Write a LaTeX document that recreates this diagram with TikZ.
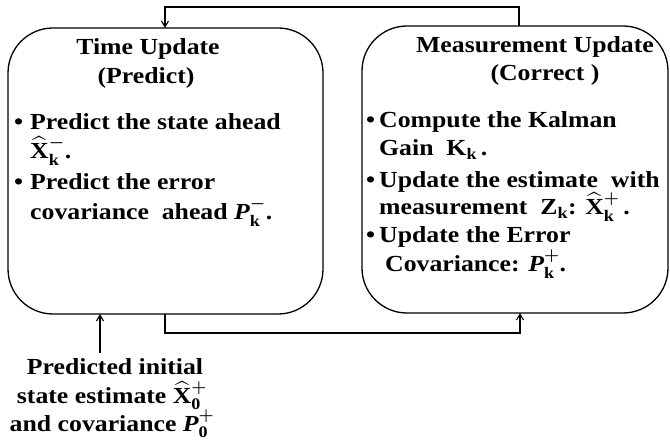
\documentclass[tikz,border=0pt]{standalone}
\usepackage{amsmath}
\usepackage{fontspec}
\setmainfont{Liberation Serif}[FakeStretch=1.12]
\usetikzlibrary{arrows.meta}
\newcommand{\tb}[1]{\text{\bfseries\upshape #1}}
\newcommand{\Xhat}{{\vphantom{\tb{X}}\smash{\widehat{\tb{X}}}}}
\newcommand{\Pit}{\text{\bfseries\itshape P}}
\begin{document}
\begin{tikzpicture}[x=1pt,y=-1pt,
  box/.style={draw,line width=1.3pt,rounded corners=45pt},
  conn/.style={line width=1.3pt},
  arr/.style={conn,-{Straight Barb[length=6pt,width=7pt,line width=1.1pt]}},
  txt/.style={font=\bfseries\boldmath\fontsize{23}{26}\selectfont,inner sep=0pt,anchor=base west},
  ctxt/.style={txt,anchor=base}]
\useasboundingbox (0,0) rectangle (670,443);
% boxes
\draw[box] (8,28) rectangle (323,314);
\draw[box] (362,26) rectangle (668,313);
\coordinate (lt) at (165,28);
\coordinate (lb) at (165,314);
\coordinate (rt) at (519,26);
\coordinate (rb) at (520,313);
\coordinate (init) at (100,314);
% left box texts
\node[ctxt] (t1) at (148,55) {Time Update};
\node[ctxt] (t2) at (146,84) {(Predict)};
\node[txt] (b1) at (14,130) {\textbullet};
\node[txt] (l1) at (30,130) {Predict the state ahead};
\node[txt] (l2) at (30,159) {$\Xhat^{-}_{\tb{k}}$.};
\node[txt] (b2) at (14,190) {\textbullet};
\node[txt] (l3) at (30,190) {Predict the error};
\node[txt] (l4) at (30,220) {covariance\ \ ahead $\Pit^{-}_{\tb{k}}$.};
% right box texts
\node[ctxt] (m1) at (535,53) {Measurement Update};
\node[ctxt] (m2) at (545,81) {(Correct )};
\node[txt] (c0) at (366,128) {\textbullet};
\node[txt] (c1) at (379,128) {Compute the Kalman};
\node[txt] (c2) at (379,156) {Gain\ \ $\tb{K}_{\tb{k}}$\,.};
\node[txt] (c3b) at (366,188) {\textbullet};
\node[txt] (c3) at (379,188) {Update the estimate\ \ with};
\node[txt] (c4) at (379,215) {measurement\ \ $\tb{Z}_{\tb{k}}$: $\Xhat^{+}_{\tb{k}}$\,.};
\node[txt] (c5b) at (366,243) {\textbullet};
\node[txt] (c5) at (379,243) {Update the Error};
\node[txt] (c6) at (385,272) {Covariance: $\Pit^{+}_{\tb{k}}$.};
% initial text
\node[ctxt] (i1) at (115,375) {Predicted initial};
\node[ctxt] (i2) at (112,404) {state estimate $\Xhat^{+}_{\tb{0}}$};
\node[ctxt] (i3) at (112,432) {and covariance $\Pit^{+}_{\tb{0}}$};
% connectors
\draw[arr] (rt) |- (519,7) -| (lt);
\draw[arr] (lb) |- (520,333) -| (rb);
\draw[arr] (100,353) -- (init);
\end{tikzpicture}
\end{document}
